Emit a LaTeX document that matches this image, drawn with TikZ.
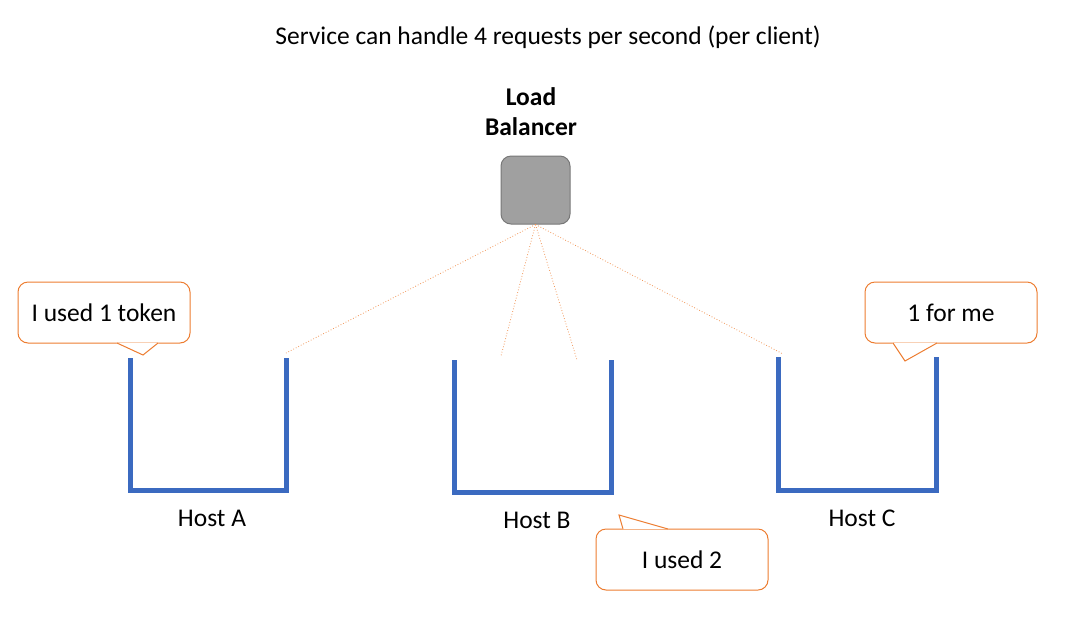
\documentclass[tikz,border=0pt]{standalone}
\usepackage{fontspec}
\setmainfont{Carlito}
\definecolor{hostblue}{RGB}{59,106,192}
\definecolor{calloutorange}{RGB}{237,125,49}
\definecolor{lbfill}{RGB}{160,160,160}
\definecolor{lbdraw}{RGB}{120,120,120}
\begin{document}
\begin{tikzpicture}[x=1pt,y=-1pt,
  txt/.style={font=\fontsize{25.5}{30}\selectfont, inner sep=0pt, anchor=center},
  bucket/.style={draw=hostblue, line width=5.5pt},
  wire/.style={draw=calloutorange!80, line width=0.8pt, dotted},
  callout/.style={draw=calloutorange, line width=1pt, fill=white, rounded corners=10pt, minimum width=172pt, minimum height=61pt, font=\fontsize{25.5}{30}\selectfont},
  lb/.style={draw=lbdraw, fill=lbfill, line width=1pt, rounded corners=10pt, minimum width=69pt, minimum height=68pt, inner sep=0pt}
]
\useasboundingbox (0,0) rectangle (1090,625);

\node[txt] (title) at (548,37) {Service can handle 4 requests per second (per client)};
\node[txt, font=\fontsize{25.5}{30}\selectfont\bfseries, align=center] (lblabel) at (531,112) {Load\\Balancer};
\node[lb] (lb) at (535.5,190) {};

% buckets
\draw[bucket] (130.5,358) -- (130.5,490.5) -- (286.5,490.5) -- (286.5,358);
\draw[bucket] (454.5,360) -- (454.5,492.5) -- (611.5,492.5) -- (611.5,360);
\draw[bucket] (778.5,357) -- (778.5,490.5) -- (936.5,490.5) -- (936.5,357);

\coordinate (aR) at (286,353);
\coordinate (bL) at (501,356);
\coordinate (bR) at (577,360);
\coordinate (cL) at (783,354);

\draw[wire] (lb.south) -- (aR);
\draw[wire] (lb.south) -- (bL);
\draw[wire] (lb.south) -- (bR);
\draw[wire] (lb.south) -- (cL);

\node[txt] (hostA) at (212,518) {Host A};
\node[txt] (hostB) at (537,520) {Host B};
\node[txt] (hostC) at (862,518) {Host C};

% callouts
\node[callout] (c1) at (104,312.5) {I used 1 token};
\fill[white] ([xshift=-0.6pt]117,343) -- (143,355) -- ([xshift=0.6pt]158,343) -- cycle;
\draw[calloutorange, line width=1pt] (117,343) -- (143,355) -- (158,343);

\node[callout] (c2) at (951,312.5) {1 for me};
\fill[white] ([xshift=-0.6pt]893,343) -- (905,361) -- ([xshift=0.6pt]937,343) -- cycle;
\draw[calloutorange, line width=1pt] (893,343) -- (905,361) -- (937,343);

\node[callout] (c3) at (682,559.5) {I used 2};
\fill[white] ([xshift=-0.6pt]623,529) -- (619,515) -- ([xshift=0.6pt]668,529) -- cycle;
\draw[calloutorange, line width=1pt] (623,529) -- (619,515) -- (668,529);
\end{tikzpicture}
\end{document}
